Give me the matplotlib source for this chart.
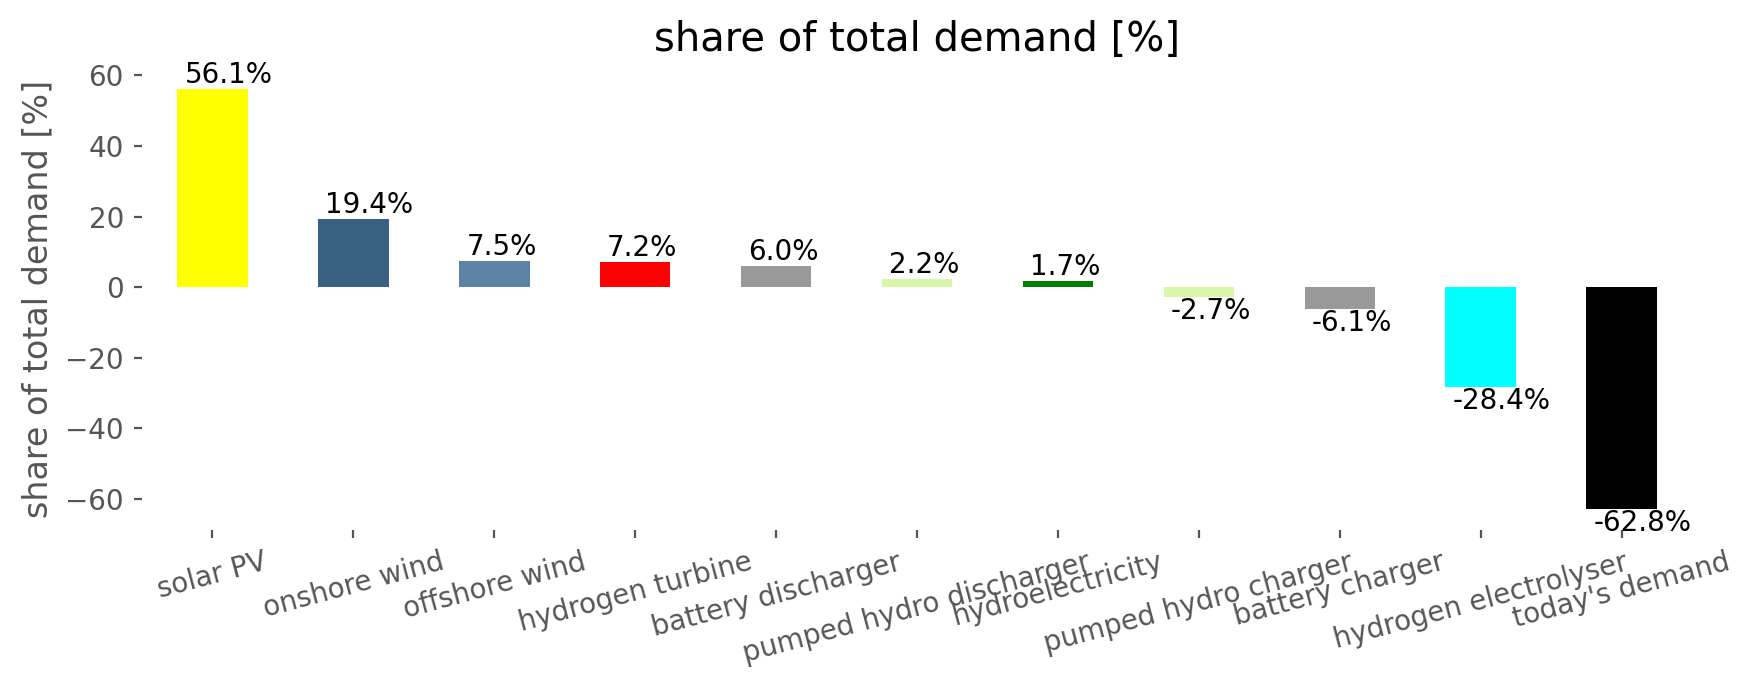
import matplotlib
matplotlib.use("Agg")
import matplotlib.pyplot as plt
import pandas as pd

# values
carriers = [
    "solar PV", "onshore wind", "offshore wind", "hydrogen turbine",
    "battery discharger", "pumped hydro discharger", "hydroelectricity",
    "pumped hydro charger", "battery charger", "hydrogen electrolyser",
    "today's demand",
]
share = [56.1, 19.4, 7.5, 7.2, 6.0, 2.2, 1.7, -2.7, -6.1, -28.4, -62.8]
colors = [
    "#ffff00", "#3b6182", "#5d83a4", "#ff0000", "#999999", "#d9f7a9",
    "#008000", "#d9f7a9", "#999999", "#00ffff", "#000000",
]

plt.style.use("ggplot")

s = pd.Series(share, index=carriers)

fig = plt.figure(figsize=(17.53 / 2, 6.89 / 2), dpi=200)
ax = fig.add_axes([142 / 1753, 1 - 530 / 689, 1550 / 1753, 462 / 689])
s.plot(kind="bar", ax=ax, color=colors, width=0.5)

ax.set_facecolor("white")
ax.grid(False)
for sp in ax.spines.values():
    sp.set_visible(False)

# value labels just outside the end of each bar
for p, v in zip(ax.patches, share):
    ax.annotate(
        f"{v:.1f}%",
        (p.get_x(), v),
        xytext=(2.6, 0),
        textcoords="offset points",
        va="bottom" if v > 0 else "top",
        fontsize=10,
        color="black",
    )

ax.set_title("share of total demand [%]", fontsize=14.4, color="black")
ax.set_ylabel("share of total demand [%]", fontsize=12, color="#555555")
ax.tick_params(axis="both", labelsize=10, colors="#555555", length=3)
plt.setp(ax.get_xticklabels(), rotation=15, ha="center")

fig.savefig("out.png", dpi=200, facecolor="white")
